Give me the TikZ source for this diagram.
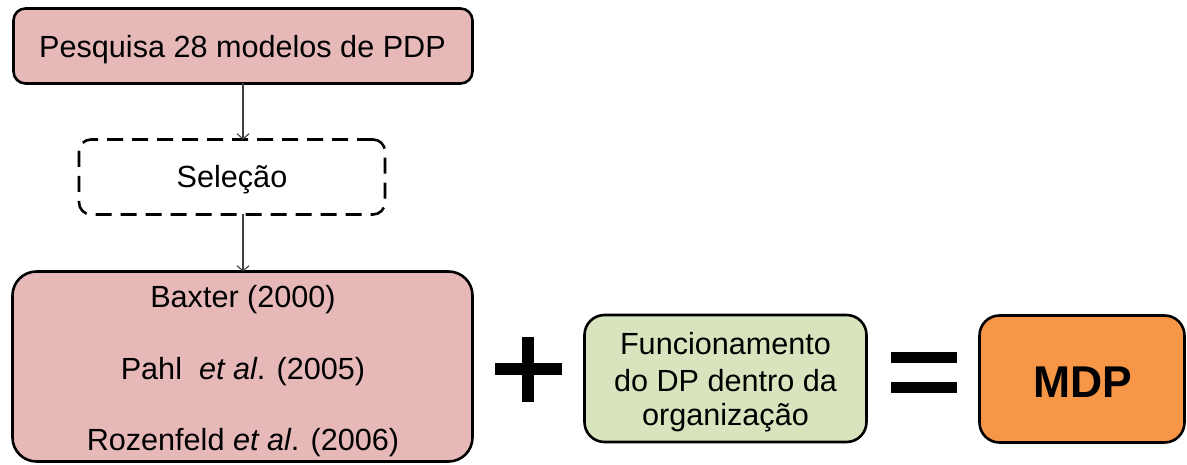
\documentclass[tikz,border=0pt]{standalone}
\usepackage{fontspec}
\setmainfont{Liberation Sans}
\usetikzlibrary{arrows.meta,calc}
\definecolor{pinkfill}{HTML}{E6B9B8}
\definecolor{greenfill}{HTML}{D7E4BD}
\definecolor{orangefill}{HTML}{F79646}
\definecolor{arrowgray}{HTML}{404040}
\begin{document}
\begin{tikzpicture}[x=1pt,y=-1pt,
  boxbase/.style={draw=black,line width=2.6pt,inner sep=0pt,outer sep=0pt},
  pinkbox/.style={boxbase,fill=pinkfill,rounded corners=12pt},
  selbox/.style={boxbase,rounded corners=12pt,dash pattern=on 16pt off 9pt},
  bigpink/.style={boxbase,fill=pinkfill,rounded corners=24pt},
  greenbox/.style={boxbase,fill=greenfill,rounded corners=20pt},
  orangebox/.style={boxbase,fill=orangefill,rounded corners=20pt},
  txt/.style={anchor=base,inner sep=0pt,font=\fontsize{30.6}{35}\selectfont},
  bigtxt/.style={anchor=base,inner sep=0pt,font=\fontsize{44.5}{50}\selectfont\bfseries},
  arr/.style={draw=arrowgray,line width=1.1pt,-{Straight Barb[length=5pt,width=12pt,line width=1.1pt]}},
  symbol/.style={fill=black,draw=none}
]
\useasboundingbox (0,0) rectangle (1187,465);

% boxes
\node[pinkbox,minimum width=459pt,minimum height=75pt] (pesq) at (243,46) {};
\node[selbox,minimum width=306pt,minimum height=75pt] (sel) at (232,177) {};
\node[bigpink,minimum width=460pt,minimum height=190pt] (bax) at (242.5,366.5) {};
\node[greenbox,minimum width=282pt,minimum height=127pt] (func) at (725.5,378.5) {};
\node[orangebox,minimum width=205pt,minimum height=127pt] (mdp) at (1082,379) {};

% texts
\node[txt] (tpesq) at (242.5,58) {Pesquisa 28 modelos de PDP};
\node[txt] (tsel) at (232,188) {Seleção};
\node[txt] (tbax) at (243,308) {Baxter (2000)};
\node[txt] (tpahl) at (243,379) {Pahl\ \ \textit{et al}. (2005)};
\node[txt] (troz) at (243,450) {Rozenfeld \textit{et al}. (2006)};
\node[txt] (tf1) at (725.5,355) {Funcionamento};
\node[txt] (tf2) at (725.5,391) {do DP dentro da};
\node[txt] (tf3) at (725.5,425) {organização};
\node[bigtxt] (tmdp) at (1082.5,397) {MDP};

% connectors
\draw[arr] (pesq.south) -- (pesq.south |- sel.north);
\draw[arr] (pesq.south |- sel.south) -- (pesq.south |- bax.north);

% plus sign
\fill[symbol] (495,363) rectangle (562,375);
\fill[symbol] (522,337) rectangle (534,402);
% equals sign
\fill[symbol] (891,352) rectangle (957,363);
\fill[symbol] (891,382) rectangle (957,393);
\end{tikzpicture}
\end{document}
